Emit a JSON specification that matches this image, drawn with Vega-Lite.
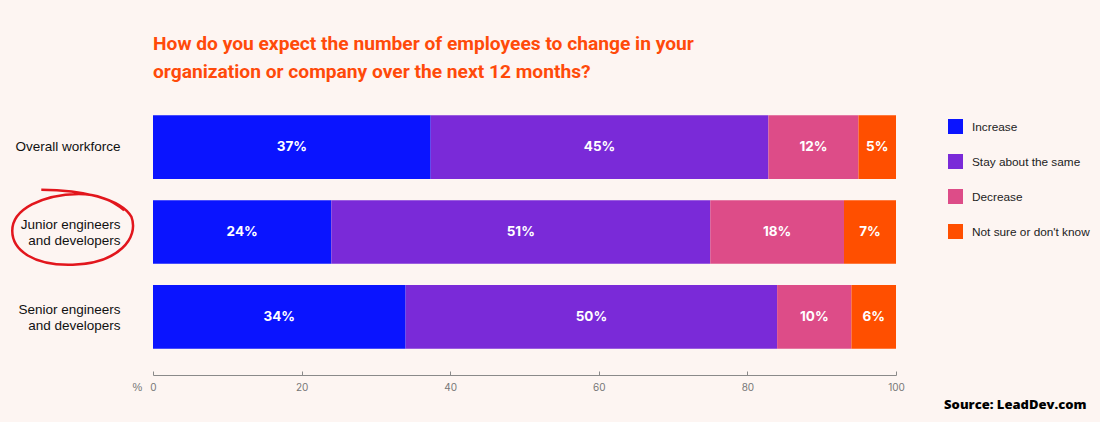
{
  "$schema": "https://vega.github.io/schema/vega-lite/v6.json",
  "autosize": "none",
  "width": 743,
  "height": 286,
  "padding": {"left": 153, "top": 89, "right": 204, "bottom": 47},
  "background": "#fdf5f2",
  "config": {"view": {"stroke": null}, "font": "Liberation Sans"},
  "title": {
    "text": ["How do you expect the number of employees to change in your", "organization or company over the next 12 months?"],
    "anchor": "start",
    "frame": "group",
    "font": "Roboto",
    "fontSize": 19.2,
    "fontWeight": 700,
    "color": "#ff4a0a",
    "lineHeight": 28,
    "offset": 7
  },
  "data": {
    "values": [
      {"group": "Overall workforce", "response": "Increase", "k": 1, "p": 0.37},
      {"group": "Overall workforce", "response": "Stay about the same", "k": 2, "p": 0.45},
      {"group": "Overall workforce", "response": "Decrease", "k": 3, "p": 0.12},
      {"group": "Overall workforce", "response": "Not sure or don't know", "k": 4, "p": 0.05},
      {"group": "Junior engineers and developers", "response": "Increase", "k": 1, "p": 0.24},
      {"group": "Junior engineers and developers", "response": "Stay about the same", "k": 2, "p": 0.51},
      {"group": "Junior engineers and developers", "response": "Decrease", "k": 3, "p": 0.18},
      {"group": "Junior engineers and developers", "response": "Not sure or don't know", "k": 4, "p": 0.07},
      {"group": "Senior engineers and developers", "response": "Increase", "k": 1, "p": 0.34},
      {"group": "Senior engineers and developers", "response": "Stay about the same", "k": 2, "p": 0.50},
      {"group": "Senior engineers and developers", "response": "Decrease", "k": 3, "p": 0.10},
      {"group": "Senior engineers and developers", "response": "Not sure or don't know", "k": 4, "p": 0.06}
    ]
  },
  "encoding": {
    "y": {
      "field": "group",
      "type": "nominal",
      "sort": null,
      "scale": {"paddingInner": 0.25, "paddingOuter": 0.31},
      "axis": {
        "domain": false,
        "ticks": false,
        "labelPadding": 33,
        "labelFont": "Liberation Sans",
        "labelFontSize": 13.5,
        "labelColor": "#111111",
        "labelLineHeight": 16,
        "labelOffset": {"condition": {"test": "datum.value != 'Overall workforce'", "value": -7}, "value": 0},
        "labelExpr": "datum.value == 'Junior engineers and developers' ? ['Junior engineers', 'and developers'] : datum.value == 'Senior engineers and developers' ? ['Senior engineers', 'and developers'] : datum.value",
        "title": "%",
        "titleAngle": 0,
        "titleX": -16,
        "titleY": 298,
        "titleAlign": "center",
        "titleBaseline": "middle",
        "titleFontSize": 11,
        "titleFontWeight": 400,
        "titleColor": "#777777"
      }
    }
  },
  "layer": [
    {
      "mark": {"type": "bar"},
      "encoding": {
        "x": {
          "field": "p",
          "type": "quantitative",
          "stack": "normalize",
          "scale": {"domain": [0, 1], "nice": false},
          "axis": {
            "values": [0, 0.2, 0.4, 0.6, 0.8, 1],
            "labelExpr": "format(datum.value * 100, 'd')",
            "grid": false,
            "domainColor": "#8a8a8a",
            "tickColor": "#8a8a8a",
            "tickSize": -4,
            "labelPadding": 11,
            "labelFont": "Inter",
            "labelFontSize": 10,
            "labelColor": "#777777",
            "labelFlush": false,
            "title": "Source: LeadDev.com",
            "titleX": 933,
            "titleY": 29,
            "titleAlign": "right",
            "titleBaseline": "middle",
            "titleFont": "Open Sans",
            "titleFontSize": 13,
            "titleFontWeight": 800,
            "titleColor": "#000000"
          }
        },
        "color": {
          "field": "response",
          "type": "nominal",
          "scale": {
            "domain": ["Increase", "Stay about the same", "Decrease", "Not sure or don't know"],
            "range": ["#0a14ff", "#7a2ad8", "#dd4c88", "#ff4f00"]
          },
          "legend": {
            "title": null,
            "orient": "none",
            "legendX": 795,
            "legendY": 30,
            "symbolType": "square",
            "symbolSize": 225,
            "symbolStrokeWidth": 0,
            "symbolOpacity": 1,
            "rowPadding": 20,
            "labelOffset": 9,
            "labelFont": "Liberation Sans",
            "labelFontSize": 11.8,
            "labelColor": "#222222",
            "labelLimit": 200,
            "padding": 0
          }
        },
        "order": {"field": "k", "type": "quantitative"}
      }
    },
    {
      "mark": {"type": "text", "color": "white", "fontSize": 13.5, "fontWeight": 700, "font": "Inter"},
      "encoding": {
        "x": {"field": "p", "type": "quantitative", "stack": "normalize", "bandPosition": 0.5},
        "detail": {"field": "response"},
        "order": {"field": "k", "type": "quantitative"},
        "text": {"field": "p", "type": "quantitative", "format": ".0%"}
      }
    },
    {
      "data": {"values": [{}]},
      "mark": {
        "type": "point",
        "shape": "M -0.52 -0.7 C 0.15 -0.7 0.8 -0.55 0.97 -0.25 C 1.1 0.1 0.75 0.52 0.0 0.54 C -0.65 0.56 -1.0 0.3 -1.0 -0.02 C -1.0 -0.38 -0.5 -0.62 0.1 -0.63 C 0.4 -0.63 0.65 -0.53 0.85 -0.36",
        "size": 14641,
        "filled": false,
        "stroke": "#e2161d",
        "strokeWidth": 2.5,
        "opacity": 1
      },
      "encoding": {
        "x": {"datum": -0.108},
        "y": {"datum": "Junior engineers and developers"}
      }
    }
  ]
}
